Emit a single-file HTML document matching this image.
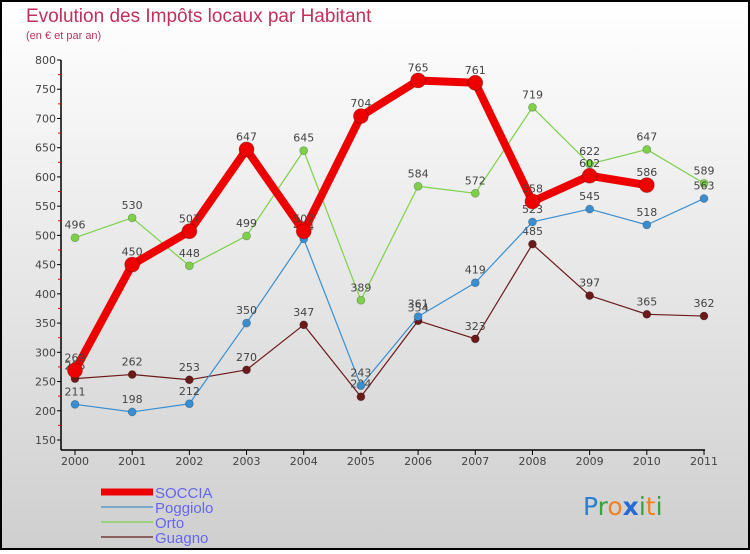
<!DOCTYPE html>
<html><head><meta charset="utf-8"><style>
html,body{margin:0;padding:0}
body{width:750px;height:550px;overflow:hidden;font-family:"DejaVu Sans","Liberation Sans",sans-serif}
</style></head><body>
<svg id="chart" width="750" height="550" xmlns="http://www.w3.org/2000/svg">
<defs><linearGradient id="bg" x1="0" y1="0" x2="0" y2="1"><stop offset="0" stop-color="#ffffff"/><stop offset="1" stop-color="#cfcfcf"/></linearGradient></defs>
<rect x="1" y="1" width="748" height="548" fill="url(#bg)" stroke="#000" stroke-width="2"/>
<text x="26" y="22" font-size="19" fill="#c0305a" font-family="'Liberation Sans',sans-serif">Evolution des Impôts locaux par Habitant</text>
<text x="26" y="39" font-size="11" fill="#c0305a" font-family="'Liberation Sans',sans-serif">(en € et par an)</text>
<g id="axes"></g>
<g id="series"></g>
<g id="legend"></g>
<text x="583" y="515" font-size="25" font-family="'DejaVu Sans',sans-serif"><tspan fill="#2a7fd0">P</tspan><tspan fill="#3aa040">r</tspan><tspan fill="#f08020">o</tspan><tspan fill="#2a6ad0" font-weight="bold">x</tspan><tspan fill="#3aa040">i</tspan><tspan fill="#f08020">t</tspan><tspan fill="#3aa040">i</tspan></text>
</svg>
<script>
const years=[2000,2001,2002,2003,2004,2005,2006,2007,2008,2009,2010,2011];
const yTicks=[150,200,250,300,350,400,450,500,550,600,650,700,750,800];
const soccia=[269,450,507,647,507,704,765,761,558,602,586,null];
const poggiolo=[211,198,212,350,494,243,361,419,523,545,518,563];
const orto=[496,530,448,499,645,389,584,572,719,622,647,589];
const guagno=[255,262,253,270,347,224,354,323,485,397,365,362];
const NS='http://www.w3.org/2000/svg';
const X=i=>75+i*(704-75)/11;
const Y=v=>440-(v-150)*(380/650);
function mk(tag,attrs,parent){const e=document.createElementNS(NS,tag);for(const k in attrs)e.setAttribute(k,attrs[k]);parent.appendChild(e);return e;}
const ax=document.getElementById('axes');
let l=mk('line',{x1:61,y1:Y(800),x2:61,y2:450,stroke:'#000','stroke-width':1.5},ax);


l=mk('line',{x1:61,y1:450,x2:705,y2:450,stroke:'#000','stroke-width':1.5},ax);


yTicks.forEach((v,i)=>{
  mk('line',{x1:57,y1:Y(v),x2:61,y2:Y(v),stroke:'#000'},ax);
  if(i<yTicks.length-1) mk('line',{x1:58,y1:Y(v+25),x2:61,y2:Y(v+25),stroke:'#e00'},ax);
  const t=mk('text',{x:56,y:Y(v)+4,'text-anchor':'end','font-size':11,fill:'#444'},ax);
  t.textContent=v;
  
  
});
years.forEach((yr,i)=>{
  mk('line',{x1:X(i),y1:450,x2:X(i),y2:455,stroke:'#000'},ax);
  const t=mk('text',{x:X(i),y:465,'text-anchor':'middle','font-size':11,fill:'#444'},ax);
  t.textContent=yr;
  
  
});
const sg=document.getElementById('series');
function draw(name,data,color,w,r){
  const g=mk('g',{},sg);
  
  
  const pts=[];data.forEach((v,i)=>{if(v!=null)pts.push(X(i)+','+Y(v));});
  mk('polyline',{points:pts.join(' '),fill:'none',stroke:color,'stroke-width':w,'stroke-linejoin':'round'},g);
  data.forEach((v,i)=>{if(v==null)return;
    const c=mk('circle',{cx:X(i),cy:Y(v),r:r,fill:color,stroke:'rgba(0,0,0,0.25)','stroke-width':0.8},g);
    
    
    const t=mk('text',{x:X(i),y:Y(v)-9,'text-anchor':'middle','font-size':11,fill:'#444'},g);
    t.textContent=v;
    
    
  });
}
draw('guagno',guagno,'#6b1a1a',1.2,4);
draw('orto',orto,'#7ed04a',1.2,4);
draw('poggiolo',poggiolo,'#3a8ed0',1.2,4);
draw('soccia',soccia,'#ee0000',8,7.5);
const lg=document.getElementById('legend');
[['SOCCIA','#ee0000',7],['Poggiolo','#7aa8c8',2],['Orto','#9ad080',2],['Guagno','#8a6060',2]].forEach((d,i)=>{
  const y=492+i*15;
  const g=mk('g',{},lg);
  
  
  mk('line',{x1:101,y1:y,x2:153,y2:y,stroke:d[1],'stroke-width':d[2]},g);
  const t=mk('text',{x:155,y:y+6,'font-size':15,fill:'#6666ee','font-family':"'Liberation Sans',sans-serif"},g);
  t.textContent=d[0];
});
</script>
</body></html>
